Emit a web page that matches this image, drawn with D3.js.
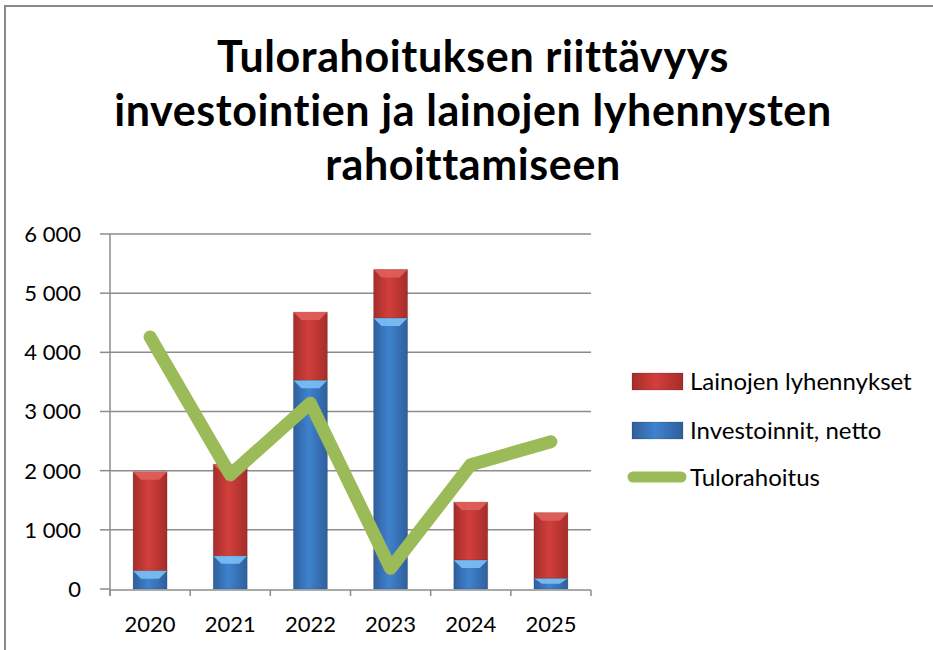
<!DOCTYPE html>
<html>
<head>
<meta charset="utf-8">
<script src="https://cdn.jsdelivr.net/npm/d3@7"></script>
<style>
  body { margin: 0; background: #fff; }
  svg { display: block; font-family: Lato, "Open Sans", sans-serif; }
</style>
</head>
<body>
<svg id="chart" width="933" height="650"></svg>
<script>
// data
const years = ['2020', '2021', '2022', '2023', '2024', '2025'];
const investoinnit = [310, 560, 3530, 4580, 490, 180];
const lainat = [1670, 1550, 1150, 820, 980, 1110];
const tulorahoitus = [4260, 1930, 3140, 350, 2100, 2490];
const yTicks = [0, 1000, 2000, 3000, 4000, 5000, 6000];
const titleLines = ['Tulorahoituksen riittävyys', 'investointien ja lainojen lyhennysten', 'rahoittamiseen'];
const legendLabels = ['Lainojen lyhennykset', 'Investoinnit, netto', 'Tulorahoitus'];

const svg = d3.select('#chart');
const fi = d3.formatLocale({ decimal: ',', thousands: ' ', grouping: [3], currency: ['', ' €'] });
const fmt = fi.format(',');

// outer frame (runs off the right and bottom edge)
svg.append('rect')
  .attr('x', 5).attr('y', 6)
  .attr('width', 1000).attr('height', 700)
  .attr('fill', 'none').attr('stroke', '#8a8a8a').attr('stroke-width', 2);

// title
svg.append('g').selectAll('text')
  .data(titleLines)
  .join('text')
  .attr('x', 473)
  .attr('y', (d, i) => 72 + i * 54)
  .attr('text-anchor', 'middle')
  .attr('font-size', 43)
  .attr('letter-spacing', 0.6)
  .attr('font-weight', 'bold')
  .attr('fill', '#000')
  .text(d => d);

const x = d3.scaleBand().domain(years).range([110, 591]).paddingInner(0.576).paddingOuter(0.288);
const y = d3.scaleLinear().domain([0, 6000]).range([589, 234]);

// gradients for the bevelled bars
const defs = svg.append('defs');
function barGrad(id, edge, mid) {
  const g = defs.append('linearGradient').attr('id', id).attr('x1', 0).attr('x2', 1).attr('y1', 0).attr('y2', 0);
  g.append('stop').attr('offset', '0%').attr('stop-color', edge);
  g.append('stop').attr('offset', '45%').attr('stop-color', mid);
  g.append('stop').attr('offset', '100%').attr('stop-color', edge);
}
barGrad('gRed', '#a52d2a', '#d23f3b');
barGrad('gBlue', '#2f5f9c', '#3f82cf');

// gridlines
svg.append('g').selectAll('line')
  .data(yTicks.filter(d => d > 0))
  .join('line')
  .attr('x1', 110).attr('x2', 591)
  .attr('y1', d => y(d)).attr('y2', d => y(d))
  .attr('stroke', '#8c8c8c').attr('stroke-width', 1.5);

// y axis
const yAxis = svg.append('g');
yAxis.append('line')
  .attr('x1', 110).attr('x2', 110).attr('y1', y(6000)).attr('y2', 596)
  .attr('stroke', '#8c8c8c').attr('stroke-width', 1.5);
yAxis.selectAll('.tk').data(yTicks).join('line')
  .attr('x1', 100).attr('x2', 110)
  .attr('y1', d => y(d)).attr('y2', d => y(d))
  .attr('stroke', '#8c8c8c').attr('stroke-width', 1.5);
yAxis.selectAll('text').data(yTicks).join('text')
  .attr('x', 81).attr('y', d => y(d))
  .attr('dy', '0.36em')
  .attr('text-anchor', 'end')
  .attr('font-size', 22)
  .attr('fill', '#000')
  .text(d => fmt(d));

// stacked bars
const stacked = years.map((yr, i) => ({ yr, inv: investoinnit[i], lai: lainat[i] }));
const bars = svg.append('g');
stacked.forEach(d => {
  const bx = x(d.yr), bw = x.bandwidth();
  const parts = [
    { y0: 0, y1: d.inv, fill: 'url(#gBlue)', top: '#7cc0f5' },
    { y0: d.inv, y1: d.inv + d.lai, fill: 'url(#gRed)', top: '#e0615c' }
  ];
  parts.forEach(p => {
    const top = y(p.y1), bot = y(p.y0);
    const h = bot - top;
    bars.append('rect')
      .attr('x', bx).attr('y', top).attr('width', bw).attr('height', h)
      .attr('fill', p.fill)
      .attr('stroke', 'rgba(0,0,0,0.15)').attr('stroke-width', 1);
    // top bevel
    const bh = Math.min(8, h / 2);
    bars.append('path')
      .attr('d', `M${bx},${top} L${bx + bw},${top} L${bx + bw - 8},${top + bh} L${bx + 8},${top + bh} Z`)
      .attr('fill', p.top).attr('opacity', 0.9);
  });
});

// x axis
const xAxis = svg.append('g');
xAxis.append('line')
  .attr('x1', 110).attr('x2', 591).attr('y1', 590).attr('y2', 590)
  .attr('stroke', '#8c8c8c').attr('stroke-width', 1.5);
xAxis.selectAll('line.tk').data(d3.range(years.length + 1)).join('line')
  .attr('class', 'tk')
  .attr('x1', i => 110 + i * x.step()).attr('x2', i => 110 + i * x.step())
  .attr('y1', 590).attr('y2', 596)
  .attr('stroke', '#8c8c8c').attr('stroke-width', 1.5);
xAxis.selectAll('text').data(years).join('text')
  .attr('x', d => x(d) + x.bandwidth() / 2)
  .attr('y', 632)
  .attr('text-anchor', 'middle')
  .attr('font-size', 22)
  .attr('fill', '#000')
  .text(d => d);

// Tulorahoitus line
const line = d3.line()
  .x((d, i) => x(years[i]) + x.bandwidth() / 2)
  .y(d => y(d));
svg.append('path')
  .datum(tulorahoitus)
  .attr('d', line)
  .attr('fill', 'none')
  .attr('stroke', '#9bbb59')
  .attr('stroke-width', 13)
  .attr('stroke-linejoin', 'round')
  .attr('stroke-linecap', 'round');

// legend
const legend = svg.append('g');
const rowY = [381, 430, 477];
legend.append('rect').attr('x', 632).attr('y', rowY[0] - 8).attr('width', 51).attr('height', 17)
  .attr('fill', 'url(#gRed)').attr('stroke', 'rgba(0,0,0,0.15)');
legend.append('rect').attr('x', 632).attr('y', rowY[1] - 8).attr('width', 51).attr('height', 17)
  .attr('fill', 'url(#gBlue)').attr('stroke', 'rgba(0,0,0,0.15)');
legend.append('line').attr('x1', 633).attr('x2', 681).attr('y1', rowY[2]).attr('y2', rowY[2])
  .attr('stroke', '#9bbb59').attr('stroke-width', 11).attr('stroke-linecap', 'round');
legend.selectAll('text').data(legendLabels).join('text')
  .attr('x', 690)
  .attr('y', (d, i) => rowY[i] + 9)
  .attr('font-size', 24)
  .attr('fill', '#000')
  .text(d => d);
</script>
</body>
</html>
